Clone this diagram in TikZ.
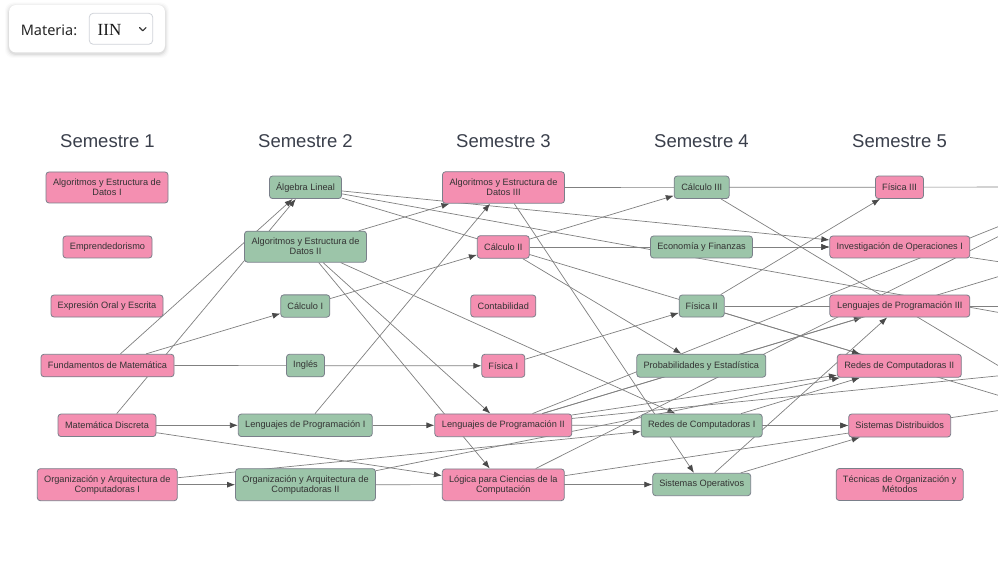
\documentclass[tikz,border=0pt]{standalone}
\usepackage{fontspec}
\setmainfont{Liberation Sans}
\newfontfamily\notofont{Noto Sans}
\newfontfamily\selfont{Liberation Serif}
\usetikzlibrary{arrows.meta,backgrounds}
\definecolor{pinkfill}{HTML}{F48FB1}
\definecolor{greenfill}{HTML}{9CC5A9}
\definecolor{nodeborder}{HTML}{7A7F8A}
\definecolor{nodetext}{HTML}{333333}
\definecolor{edgecol}{HTML}{808080}
\definecolor{tipcol}{HTML}{4A4A4A}
\definecolor{headcol}{HTML}{3A3F4B}
\definecolor{selborder}{HTML}{D0D3D9}
\begin{document}
\begin{tikzpicture}[x=1pt,y=-1pt,
  subj/.style={draw=nodeborder, line width=0.8pt, rounded corners=3pt, inner sep=0pt,
    align=center, text=nodetext, font=\fontsize{9.2}{10}\selectfont},
  pk/.style={subj, fill=pinkfill},
  gr/.style={subj, fill=greenfill},
  head/.style={font=\fontsize{18.5}{20}\selectfont, text=headcol},
  edge/.style={draw=edgecol, line width=0.7pt, -{Latex[length=8pt,width=6pt,color=tipcol]}},
]
\useasboundingbox (0,0) rectangle (998,561);

% ---- selector card ----
\foreach \i/\o in {1/0.05,2/0.035,3/0.025,4/0.015}{
  \fill[black, opacity=\o, rounded corners=8pt] (9-\i,5-\i+1.5) rectangle (165+\i,52.5+\i+1.5);
}
\fill[white, rounded corners=7pt] (9,5) rectangle (165,52.5);
\node[font=\notofont\fontsize{14.5}{16}\selectfont, text=black!85, inner sep=0pt] (matlabel) at (49,30) {Materia:};
\node[draw=selborder, line width=0.8pt, rounded corners=4pt, minimum width=63.5pt, minimum height=31pt, fill=white, inner sep=0pt] (sel) at (121,28.8) {};
\node[font=\selfont\fontsize{17}{19}\selectfont, text=black!90, anchor=west, inner sep=0pt] (selval) at (97.5,29.5) {IIN};
\draw[line width=1.1pt, black!80, line cap=round, line join=round] (139.5,27.5) -- (142.8,30.8) -- (146.1,27.5);

% ---- headers ----
\node[head] (h1) at (107.5,141) {Semestre 1};
\node[head] (h2) at (305.5,141) {Semestre 2};
\node[head] (h3) at (503.5,141) {Semestre 3};
\node[head] (h4) at (701.5,141) {Semestre 4};
\node[head] (h5) at (899.5,141) {Semestre 5};

% ---- semester 1 ----
\node[pk, minimum width=122pt, minimum height=31pt] (alg1) at (107,187.5) {Algoritmos y Estructura de\\Datos I};
\node[pk, minimum width=89pt, minimum height=22pt] (empr) at (107.5,247) {Emprendedorismo};
\node[pk, minimum width=112pt, minimum height=22pt] (expr) at (107,306) {Expresión Oral y Escrita};
\node[pk, minimum width=133pt, minimum height=22.5pt] (fund) at (107.5,365.5) {Fundamentos de Matemática};
\node[pk, minimum width=98pt, minimum height=22.5pt] (matd) at (107,425.3) {Matemática Discreta};
\node[pk, minimum width=140pt, minimum height=32pt] (org1) at (107.3,484.7) {Organización y Arquitectura de\\Computadoras I};

% ---- semester 2 ----
\node[gr, minimum width=72pt, minimum height=22.5pt] (alglin) at (305.5,187.3) {Álgebra Lineal};
\node[gr, minimum width=122pt, minimum height=31pt] (alg2) at (305.5,246.7) {Algoritmos y Estructura de\\Datos II};
\node[gr, minimum width=49pt, minimum height=22.3pt] (calc1) at (305.3,306) {Cálculo I};
\node[gr, minimum width=38pt, minimum height=22.5pt] (ingl) at (305.5,365.5) {Inglés};
\node[gr, minimum width=134pt, minimum height=22.5pt] (lp1) at (305.3,425.3) {Lenguajes de Programación I};
\node[gr, minimum width=140pt, minimum height=32pt] (org2) at (305.5,484.7) {Organización y Arquitectura de\\Computadoras II};

% ---- semester 3 ----
\node[pk, minimum width=122pt, minimum height=31.5pt] (alg3) at (503.5,187.5) {Algoritmos y Estructura de\\Datos III};
\node[pk, minimum width=52pt, minimum height=22.6pt] (calc2) at (503.3,247) {Cálculo II};
\node[pk, minimum width=65pt, minimum height=22pt] (cont) at (503.3,306) {Contabilidad};
\node[pk, minimum width=43pt, minimum height=23pt] (fis1) at (503.3,365.8) {Física I};
\node[pk, minimum width=137pt, minimum height=22.7pt] (lp2) at (503.3,425.3) {Lenguajes de Programación II};
\node[pk, minimum width=122pt, minimum height=31.7pt] (logica) at (503.3,484.8) {Lógica para Ciencias de la\\Computación};

% ---- semester 4 ----
\node[gr, minimum width=55pt, minimum height=22.5pt] (calc3) at (701.7,187.3) {Cálculo III};
\node[gr, minimum width=102pt, minimum height=22pt] (econ) at (701.5,247) {Economía y Finanzas};
\node[gr, minimum width=45pt, minimum height=22pt] (fis2) at (701.7,306) {Física II};
\node[gr, minimum width=129pt, minimum height=23pt] (prob) at (701.3,365.7) {Probabilidades y Estadística};
\node[gr, minimum width=121pt, minimum height=23pt] (redes1) at (701.7,425.5) {Redes de Computadoras I};
\node[gr, minimum width=98pt, minimum height=22.4pt] (so) at (701.7,484.5) {Sistemas Operativos};

% ---- semester 5 ----
\node[pk, minimum width=48pt, minimum height=22.5pt] (fis3) at (899.5,187.3) {Física III};
\node[pk, minimum width=140pt, minimum height=22pt] (invop) at (899.8,247) {Investigación de Operaciones I};
\node[pk, minimum width=140pt, minimum height=22pt] (lp3) at (899.8,306) {Lenguajes de Programación III};
\node[pk, minimum width=124pt, minimum height=23pt] (redes2) at (899.3,365.8) {Redes de Computadoras II};
\node[pk, minimum width=102pt, minimum height=23pt] (sd) at (899.7,425.5) {Sistemas Distribuidos};
\node[pk, minimum width=127pt, minimum height=32pt] (tec) at (899.7,484.5) {Técnicas de Organización y\\Métodos};

% ---- off-screen targets (later semesters) ----
\coordinate (s6r1) at (1097,187);
\coordinate (s6r2) at (1097,247);
\coordinate (s6r3) at (1097,306);
\coordinate (s6r4) at (1097,366);
\coordinate (s6r5) at (1097,425);
\coordinate (s7r3) at (1295,306);
\coordinate (s7r4) at (1295,366);

% ---- connectors ----
\begin{pgfonlayer}{background}
\fill[white] (0,0) rectangle (998,561);
\begin{scope}
\clip (0,0) rectangle (998,561);
\draw[edge] (fund) -- (alglin);
\draw[edge] (matd) -- (alglin);
\draw[edge] (fund) -- (calc1);
\draw[edge] (fund) -- (fis1);
\draw[edge] (matd) -- (lp1);
\draw[edge] (matd) -- (logica);
\draw[edge] (org1) -- (org2);
\draw[edge] (org1) -- (redes1);
\draw[edge] (alglin) -- (invop);
\draw[edge] (alglin) -- (s6r5);
\draw[edge] (alglin) -- (s7r4);
\draw[edge] (alg2) -- (alg3);
\draw[edge] (alg2) -- (lp2);
\draw[edge] (alg2) -- (logica);
\draw[edge] (alg2) -- (redes1);
\draw[edge] (calc1) -- (calc2);
\draw[edge] (lp1) -- (lp2);
\draw[edge] (lp1) -- (alg3);
\draw[edge] (org2) -- (so);
\draw[edge] (org2) -- (redes2);
\draw[edge] (alg3) -- (s6r1);
\draw[edge] (alg3) -- (so);
\draw[edge] (calc2) -- (calc3);
\draw[edge] (calc2) -- (invop);
\draw[edge] (calc2) -- (prob);
\draw[edge] (fis1) -- (fis2);
\draw[edge] (lp2) -- (lp3);
\draw[edge] (lp2) -- (s6r2);
\draw[edge] (lp2) -- (s6r1);
\draw[edge] (lp2) -- (redes2);
\draw[edge] (lp2) -- (s6r4);
\draw[edge] (lp2) -- (sd);
\draw[edge] (logica) -- (s6r1);
\draw[edge] (logica) -- (s7r4);
\draw[edge] (calc3) -- (s6r5);
\draw[edge] (econ) -- (invop);
\draw[edge] (fis2) -- (fis3);
\draw[edge] (fis2) -- (redes2);
\draw[edge] (fis2) -- (s6r3);
\draw[edge] (redes1) -- (redes2);
\draw[edge] (redes1) -- (sd);
\draw[edge] (so) -- (lp3);
\draw[edge] (so) -- (sd);
\draw[edge] (invop) -- (s7r3);
\end{scope}
\end{pgfonlayer}
\end{tikzpicture}
\end{document}
